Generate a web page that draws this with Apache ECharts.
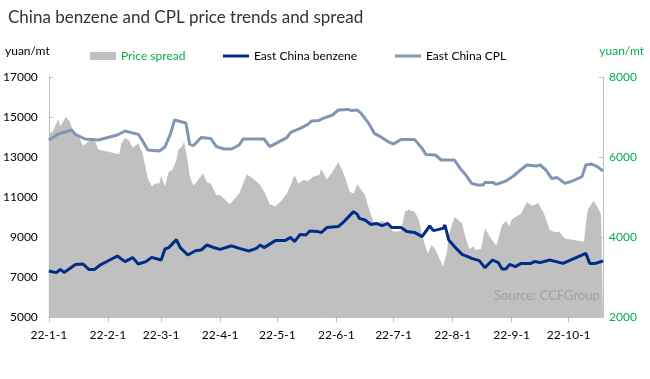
<!DOCTYPE html>
<html>
<head>
<meta charset="utf-8">
<script src="https://cdn.jsdelivr.net/npm/echarts@6/dist/echarts.min.js"></script>
<style>
html,body{margin:0;padding:0;background:#fff;}
#chart{width:650px;height:379px;}
</style>
</head>
<body>
<div id="chart"></div>
<script>
const YEAR = '2022';
const startDate = '2022-01-01';
const endDate = '2022-10-19';

const leftTicks = [5000, 17000, 2000];   // min, max, step (yuan/mt)
const rightTicks = [2000, 8000, 2000];   // min, max, step (yuan/mt)

const spreadDates = ['01-01','01-03','01-06','01-07','01-10','01-12','01-13','01-14','01-17','01-19','01-20','01-23','01-25','01-27',
  '02-07','02-08','02-10','02-12','02-14','02-17','02-19','02-20','02-22','02-24','02-26','02-28',
  '03-01','03-03','03-05','03-07','03-09','03-10','03-12','03-13','03-15','03-16','03-18','03-20','03-23','03-25','03-27','03-30',
  '04-01','04-06','04-11','04-15','04-19','04-22','04-25','04-27','04-30',
  '05-03','05-06','05-08','05-10','05-12','05-15','05-17','05-20','05-23','05-24','05-27','05-30',
  '06-02','06-04','06-06','06-08','06-10','06-12','06-16','06-18','06-21','06-25','06-27',
  '07-01','07-05','07-07','07-09','07-12','07-14','07-17','07-19','07-21','07-23','07-25','07-27','07-29','07-30',
  '08-02','08-06','08-07','08-09','08-10','08-12','08-13','08-16','08-18','08-21','08-24','08-27','08-29','08-31',
  '09-01','09-06','09-09','09-12','09-15','09-18','09-21','09-24','09-26','09-29',
  '10-09','10-10','10-11','10-14','10-16','10-18','10-19'];
const spreadValues = [6590,6630,6950,6760,7010,6880,6910,6630,6480,6280,6320,6440,6420,6190,
  6070,6340,6480,6420,6230,6340,6130,5920,5470,5270,5340,5340,
  5530,5260,5630,5680,5920,6180,6260,6380,5880,5510,5280,5400,5590,5370,5340,5050,
  5050,4820,5090,5570,5430,5300,5050,4820,4760,
  4900,5090,5300,5550,5340,5430,5400,5510,5550,5700,5440,5630,
  5870,5680,5430,5130,5090,5320,5050,4720,4300,4400,4340,
  4130,4150,4630,4680,4630,4470,3880,3590,3800,3680,3470,3260,3600,4050,
  4500,4340,4130,3800,3700,3760,3680,3700,4220,3970,3780,4300,4400,4260,
  4440,4590,4860,4780,4850,4590,4180,4120,4130,3960,
  3880,4340,4680,4900,4760,4550,4500];

const benzeneDates = ['01-01','01-05','01-07','01-09','01-12','01-15','01-19','01-22','01-25','01-28',
  '02-06','02-10','02-14','02-17','02-21','02-24',
  '03-01','03-03','03-05','03-09','03-11','03-15','03-19','03-22','03-25','03-28',
  '04-01','04-07','04-11','04-16','04-20','04-22','04-24','04-30',
  '05-05','05-08','05-10','05-13','05-16','05-18','05-22','05-24','05-27',
  '06-02','06-05','06-10','06-12','06-13','06-16','06-19','06-22','06-25','06-28','06-30',
  '07-05','07-08','07-12','07-16','07-20','07-22','07-27','07-28','07-30',
  '08-02','08-06','08-09','08-11','08-15','08-18','08-22','08-25','08-27','08-29','08-31',
  '09-03','09-06','09-11','09-13','09-16','09-21','09-28',
  '10-04','10-10','10-12','10-15','10-19'];
const benzeneValues = [7300,7220,7380,7230,7430,7630,7650,7380,7380,7600,
  8050,7770,7970,7650,7770,7980,
  7850,8400,8470,8870,8470,8100,8310,8350,8600,8490,
  8380,8560,8430,8300,8430,8600,8470,8820,
  8820,8980,8770,9130,9100,9300,9280,9220,9470,
  9520,9770,10270,10130,9930,9850,9630,9680,9570,9680,9470,
  9470,9270,9230,9020,9550,9320,9430,9600,8850,
  8520,8130,8020,7930,7820,7470,7850,7720,7400,7400,7630,
  7520,7680,7680,7770,7720,7850,7680,
  7930,8180,7680,7680,7800];

const cplDates = ['01-01','01-06','01-13','01-15','01-20','01-27',
  '02-06','02-10','02-17','02-19','02-22','02-28',
  '03-03','03-06','03-08','03-14','03-16','03-18','03-22','03-27','03-30',
  '04-03','04-07','04-11','04-13','04-24','04-27',
  '05-02','05-06','05-08','05-13','05-17','05-19','05-23','05-25','05-30',
  '06-02','06-07','06-09','06-12','06-14','06-18','06-21','06-24','06-28',
  '07-01','07-05','07-06','07-12','07-16','07-18','07-23','07-26',
  '08-02','08-05','08-08','08-11','08-14','08-17','08-18','08-22','08-24','08-29',
  '09-02','09-05','09-09','09-14','09-16','09-19','09-22','09-25','09-29',
  '10-03','10-08','10-10','10-13','10-16','10-19'];
const cplValues = [13850,14150,14350,14130,13900,13850,
  14100,14300,14130,13850,13350,13300,
  13500,14180,14850,14700,13630,13570,13980,13930,13520,
  13400,13400,13600,13900,13900,13520,
  13770,13970,14230,14430,14630,14800,14830,14930,15100,
  15350,15380,15320,15350,15180,14680,14180,14020,13770,
  13650,13880,13930,13880,13430,13130,13100,12850,
  12850,12430,12100,11680,11600,11600,11730,11730,11630,11800,
  12050,12300,12600,12550,12600,12350,11930,11970,11680,
  11800,12020,12600,12650,12520,12300];

const seriesNames = ['Price spread', 'East China benzene', 'East China CPL'];

// all calendar days as category labels
const categories = [];
for (let d = new Date(startDate + 'T00:00:00Z'); d <= new Date(endDate + 'T00:00:00Z'); d.setUTCDate(d.getUTCDate() + 1)) {
  categories.push(d.toISOString().slice(0, 10));
}
const pairs = (dates, vals) => dates.map((md, i) => [YEAR + '-' + md, vals[i]]);
const isMonthStart = (idx, val) => val.slice(8) === '01';
const fmtDate = v => v.slice(2, 4) + '-' + parseInt(v.slice(5, 7), 10) + '-' + parseInt(v.slice(8), 10);
const fmtNum = v => String(v);

const FONT = 'Lato';
const chart = echarts.init(document.getElementById('chart'), null, {renderer: 'canvas'});
chart.setOption({
  animation: false,
  backgroundColor: '#ffffff',
  textStyle: {fontFamily: FONT},
  title: {
    text: 'China benzene and CPL price trends and spread',
    left: 3, top: 4,
    textStyle: {fontFamily: FONT, fontSize: 17, fontWeight: 'normal', color: '#333333'}
  },
  legend: [
    {data: [{name: seriesNames[0], icon: 'rect'}], left: 85, top: 45, itemWidth: 26, itemHeight: 8,
     textStyle: {fontFamily: FONT, fontSize: 12, color: '#00B050'}},
    {data: [{name: seriesNames[1], icon: 'rect'}], left: 218, top: 45, itemWidth: 26, itemHeight: 3,
     textStyle: {fontFamily: FONT, fontSize: 12, color: '#000000'}},
    {data: [{name: seriesNames[2], icon: 'rect'}], left: 390, top: 45, itemWidth: 26, itemHeight: 3,
     textStyle: {fontFamily: FONT, fontSize: 12, color: '#000000'}}
  ],
  graphic: [
    {type: 'text', left: 5, top: 45, style: {text: 'yuan/mt', font: '12px ' + FONT, fill: '#000000'}},
    {type: 'text', right: 6, top: 45, style: {text: 'yuan/mt', font: '12px ' + FONT, fill: '#00B050'}},
    {type: 'text', left: 494, top: 289, z: 100, style: {text: 'Source: CCFGroup', font: '13px ' + FONT, fill: '#A0A0A0'}}
  ],
  grid: {left: 48, right: 47, top: 77, bottom: 62, containLabel: false},
  xAxis: {
    type: 'category',
    data: categories,
    boundaryGap: false,
    axisLine: {show: true, lineStyle: {color: '#BFBFBF', width: 1}},
    axisTick: {show: true, interval: isMonthStart, length: 5, lineStyle: {color: '#BFBFBF'}},
    axisLabel: {interval: isMonthStart, formatter: fmtDate, fontFamily: FONT, fontSize: 12, color: '#000000', margin: 12},
    splitLine: {show: false}
  },
  yAxis: [
    {
      type: 'value', position: 'left',
      min: leftTicks[0], max: leftTicks[1], interval: leftTicks[2],
      axisLine: {show: true, lineStyle: {color: '#BFBFBF'}},
      axisTick: {show: true, inside: true, length: 4, lineStyle: {color: '#BFBFBF'}},
      axisLabel: {formatter: fmtNum, fontFamily: FONT, fontSize: 12, color: '#000000', margin: 11},
      splitLine: {show: false}
    },
    {
      type: 'value', position: 'right',
      min: rightTicks[0], max: rightTicks[1], interval: rightTicks[2],
      axisLine: {show: true, lineStyle: {color: '#BFBFBF'}},
      axisTick: {show: true, inside: true, length: 4, lineStyle: {color: '#BFBFBF'}},
      axisLabel: {formatter: fmtNum, fontFamily: FONT, fontSize: 12, color: '#00B050', margin: 6},
      splitLine: {show: false}
    }
  ],
  series: [
    {
      name: seriesNames[0], type: 'line', yAxisIndex: 1,
      data: pairs(spreadDates, spreadValues),
      showSymbol: false, symbol: 'none',
      lineStyle: {width: 0, color: '#C0C0C0'},
      itemStyle: {color: '#C0C0C0'},
      areaStyle: {color: '#C0C0C0', opacity: 1, origin: 'start'},
      z: 1
    },
    {
      name: seriesNames[2], type: 'line', yAxisIndex: 0,
      data: pairs(cplDates, cplValues),
      showSymbol: false, symbol: 'none',
      lineStyle: {width: 3, color: '#8097B4'},
      itemStyle: {color: '#8097B4'},
      z: 3
    },
    {
      name: seriesNames[1], type: 'line', yAxisIndex: 0,
      data: pairs(benzeneDates, benzeneValues),
      showSymbol: false, symbol: 'none',
      lineStyle: {width: 3, color: '#002D86'},
      itemStyle: {color: '#002D86'},
      z: 4
    }
  ]
});
</script>
</body>
</html>
